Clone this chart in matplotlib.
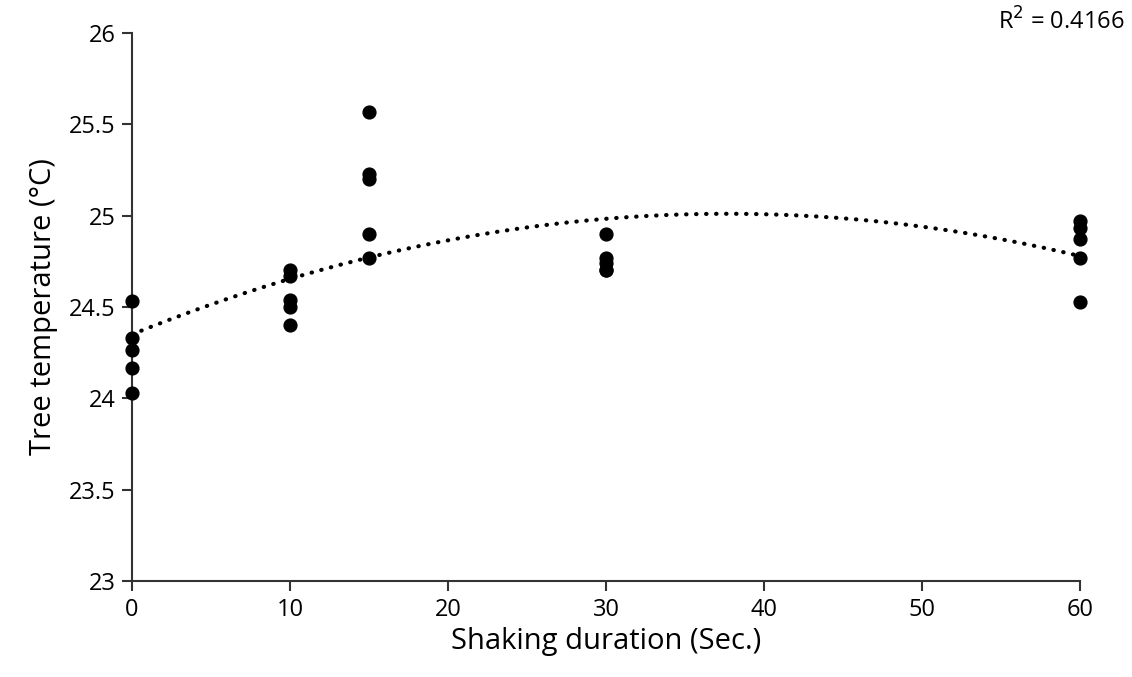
import matplotlib
matplotlib.use('Agg')
import matplotlib.pyplot as plt
import numpy as np

# shaking duration (s) and measured tree temperature (deg C)
duration = [0, 0, 0, 0, 0,
            10, 10, 10, 10, 10,
            15, 15, 15, 15, 15,
            30, 30, 30, 30, 30,
            60, 60, 60, 60, 60]
temperature = [24.535, 24.33, 24.265, 24.165, 24.03,
               24.70, 24.67, 24.54, 24.50, 24.40,
               25.57, 25.23, 25.20, 24.90, 24.77,
               24.90, 24.77, 24.74, 24.70, 24.70,
               24.97, 24.93, 24.87, 24.77, 24.53]
r2_text = "R$^2$ = 0.4166"
xticks = [0, 10, 20, 30, 40, 50, 60]
yticks = [23, 23.5, 24, 24.5, 25, 25.5, 26]

plt.rcParams['font.family'] = ['Open Sans', 'DejaVu Sans']

fig = plt.figure(figsize=(11.32, 6.77), dpi=100)
ax = fig.add_axes([132/1132, 1 - 581/677, (1080-132)/1132, (581-33)/677])

# second order polynomial trend line
coef = np.polyfit(duration, temperature, 2)
xs = np.linspace(0, 60, 300)
ax.plot(xs, np.polyval(coef, xs), color='black', lw=3,
        linestyle=(0, (0.1, 2.3)), dash_capstyle='round', zorder=2)

ax.scatter(duration, temperature, s=85, color='black', zorder=3, clip_on=False)

ax.set_xlim(0, 60)
ax.set_ylim(23, 26)
ax.set_xticks(xticks)
ax.set_yticks(yticks)
ax.set_yticklabels(['23', '23.5', '24', '24.5', '25', '25.5', '26'])
ax.spines['top'].set_visible(False)
ax.spines['right'].set_visible(False)
for s in ['left', 'bottom']:
    ax.spines[s].set_color('#333333')
    ax.spines[s].set_linewidth(1.5)
ax.tick_params(direction='out', length=7, width=1.5, color='#333333',
               labelsize=17, pad=5)

ax.set_xlabel('Shaking duration (Sec.)', fontsize=21, labelpad=4)
ax.set_ylabel('Tree temperature (°C)', fontsize=21, labelpad=8)
fig.text(1124/1132, 1 - 22/677, r2_text, fontsize=17, ha='right', va='center')

fig.savefig('out.png', dpi=100)
